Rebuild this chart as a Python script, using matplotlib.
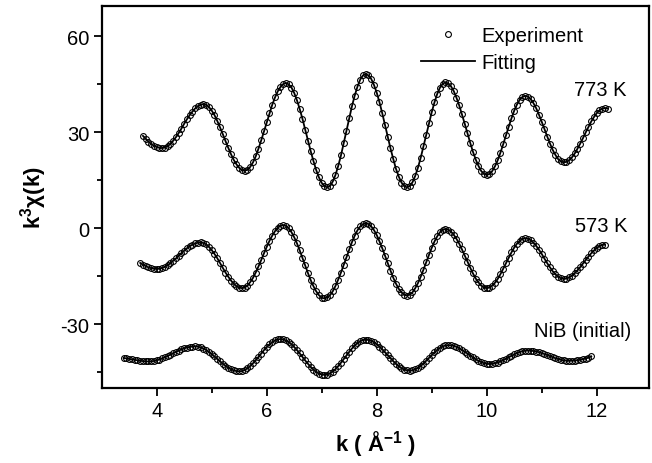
import numpy as np
import matplotlib.pyplot as plt
from matplotlib.lines import Line2D

plt.rcParams['font.family'] = ['Liberation Sans', 'DejaVu Sans']
plt.rcParams['mathtext.fontset'] = 'custom'
plt.rcParams['mathtext.rm'] = 'Liberation Sans'
plt.rcParams['mathtext.bf'] = 'Liberation Sans:bold'
plt.rcParams['axes.unicode_minus'] = False

# k^3 chi(k), 0.05 A^-1 grid starting at the first k of each curve
k_step = 0.05

k0_773 = 3.75
exp_773 = [
    28.8, 27.9, 27.0, 26.3, 25.7, 25.3, 25.05, 25.0,
    25.15, 25.6, 26.3, 27.3, 28.4, 29.7, 31.1, 32.6, 34.0, 35.3, 36.4, 37.4, 38.1, 38.55, 38.7,
    38.5, 37.8, 36.7, 35.3, 33.5, 31.5, 29.4, 27.2, 25.1, 23.1, 21.3, 19.9, 18.8, 18.1, 17.9,
    18.2, 19.1, 20.5, 22.4, 24.8, 27.4, 30.2, 33.0, 35.9, 38.5, 40.8, 42.7, 44.1, 45.0, 45.3,
    44.9, 43.9, 42.2, 39.9, 37.2, 34.1, 30.7, 27.3, 24.0, 20.9, 18.1, 15.8, 14.1, 13.1, 12.7,
    13.1, 14.5, 16.6, 19.4, 22.7, 26.5, 30.4, 34.3, 38.1, 41.4, 44.2, 46.4, 47.7, 48.1,
    47.7, 46.6, 44.7, 42.3, 39.3, 35.9, 32.2, 28.6, 24.9, 21.6, 18.5, 16.1, 14.2, 13.1, 12.7,
    13.1, 14.3, 16.3, 18.9, 22.0, 25.5, 29.1, 32.7, 36.2, 39.3, 41.9, 43.9, 45.1, 45.5,
    45.2, 44.3, 42.8, 40.7, 38.3, 35.5, 32.6, 29.6, 26.6, 23.8, 21.4, 19.4, 17.8, 16.9, 16.6,
    16.9, 17.8, 19.3, 21.2, 23.6, 26.2, 29.0, 31.7, 34.3, 36.7, 38.6, 40.1, 41.0, 41.3,
    41.0, 40.3, 39.0, 37.4, 35.4, 33.2, 30.9, 28.6, 26.4, 24.4, 22.8, 21.5, 20.8, 20.5,
    20.7, 21.2, 22.1, 23.3, 24.8, 26.4, 28.1, 29.9, 31.6, 33.3, 34.7, 35.9, 36.8, 37.3, 37.5, 37.3,
]

k0_573 = 3.70
exp_573 = [
    -10.9, -11.45, -11.9, -12.3, -12.55, -12.7, -12.8,
    -12.7, -12.5, -12.1, -11.6, -11.0, -10.2, -9.5, -8.7, -7.8, -7.1, -6.3, -5.7, -5.2, -4.8, -4.6, -4.5,
    -4.7, -5.1, -5.9, -6.9, -8.1, -9.4, -10.9, -12.4, -13.9, -15.2, -16.4, -17.4, -18.2, -18.6, -18.8,
    -18.6, -18.0, -16.9, -15.6, -13.9, -12.0, -10.0, -7.9, -5.9, -4.0, -2.4, -1.0, 0.1, 0.7, 0.9,
    0.65, -0.1, -1.3, -2.9, -4.8, -7.0, -9.4, -11.7, -14.1, -16.3, -18.2, -19.8, -21.0, -21.8, -22.0,
    -21.7, -21.0, -19.8, -18.1, -16.1, -13.9, -11.5, -9.0, -6.6, -4.4, -2.4, -0.7, 0.5, 1.2, 1.5,
    1.25, 0.5, -0.65, -2.2, -4.2, -6.3, -8.6, -11.0, -13.3, -15.5, -17.4, -19.0, -20.1, -20.9, -21.1,
    -20.8, -20.1, -18.8, -17.2, -15.2, -13.0, -10.7, -8.4, -6.2, -4.2, -2.6, -1.3, -0.6, -0.3,
    -0.5, -1.1, -2.1, -3.4, -4.9, -6.7, -8.6, -10.5, -12.4, -14.2, -15.8, -17.0, -18.0, -18.6, -18.8,
    -18.6, -18.0, -17.1, -15.9, -14.4, -12.7, -11.0, -9.3, -7.6, -6.1, -4.9, -4.0, -3.4, -3.2,
    -3.4, -3.8, -4.6, -5.6, -6.8, -8.1, -9.6, -11.0, -12.3, -13.5, -14.5, -15.3, -15.7, -15.9,
    -15.8, -15.4, -14.9, -14.1, -13.2, -12.2, -11.1, -10.0, -8.9, -7.9, -7.0, -6.2, -5.7, -5.3, -5.2,
]

k0_nib = 3.40
exp_nib = [
    -40.6, -40.75, -40.9, -41.05, -41.2, -41.35, -41.5, -41.6, -41.67, -41.7,
    -41.66, -41.54, -41.35, -41.09, -40.76, -40.4, -39.99, -39.57, -39.13, -38.71, -38.3, -37.94,
    -37.61, -37.35, -37.16, -37.04, -37.0,
    -37.07, -37.3, -37.66, -38.14, -38.73, -39.41, -40.14, -40.9, -41.66, -42.39, -43.07, -43.66,
    -44.14, -44.5, -44.72, -44.8,
    -44.69, -44.37, -43.84, -43.13, -42.27, -41.32, -40.28, -39.22, -38.18, -37.22, -36.37, -35.66,
    -35.13, -34.81, -34.7,
    -34.81, -35.13, -35.64, -36.34, -37.19, -38.16, -39.2, -40.3, -41.4, -42.44, -43.41, -44.26,
    -44.96, -45.47, -45.79, -45.9,
    -45.78, -45.43, -44.85, -44.08, -43.15, -42.1, -40.97, -39.83, -38.7, -37.65, -36.71, -35.94,
    -35.37, -35.02, -34.9,
    -34.99, -35.27, -35.71, -36.32, -37.05, -37.9, -38.8, -39.75, -40.7, -41.6, -42.45, -43.18,
    -43.79, -44.23, -44.5, -44.6,
    -44.5, -44.2, -43.73, -43.1, -42.34, -41.49, -40.6, -39.71, -38.86, -38.1, -37.47, -37.0, -36.7, -36.6,
    -36.66, -36.85, -37.16, -37.57, -38.08, -38.64, -39.24, -39.86, -40.46, -41.03, -41.53, -41.94,
    -42.25, -42.44, -42.5,
    -42.45, -42.29, -42.04, -41.71, -41.31, -40.87, -40.4, -39.93, -39.49, -39.09, -38.76, -38.51,
    -38.35, -38.3,
    -38.34, -38.44, -38.6, -38.83, -39.1, -39.4, -39.73, -40.07, -40.4, -40.7, -40.97, -41.2,
    -41.36, -41.46, -41.5,
    -41.48, -41.42, -41.32, -41.18, -41.0, -40.78, -40.5, -40.1,
]

# the fit overlays the data at this resolution
fit_773 = exp_773
fit_573 = exp_573
fit_nib = exp_nib

labels = ['773 K', '573 K', 'NiB (initial)']
label_pos = [(11.585, 43.4), (11.6, 0.7), (10.86, -31.9)]


def k_grid(k0, vals):
    return np.round(k0 + k_step * np.arange(len(vals)), 2)


fig = plt.figure(figsize=(6.52, 4.64), dpi=100)
ax = fig.add_axes([0.156, 0.1616, 0.8394, 0.8234])

curves = [(k0_773, exp_773, fit_773), (k0_573, exp_573, fit_573), (k0_nib, exp_nib, fit_nib)]
for k0, exp, fit in curves:
    k = k_grid(k0, exp)
    ax.plot(k, exp, 'o', ms=4.2, mfc='none', mec='black', mew=0.8, zorder=2)
    ax.plot(k_grid(k0, fit), fit, '-', color='black', lw=1.3, zorder=3)

for txt, (x, y) in zip(labels, label_pos):
    ax.text(x, y, txt, fontsize=14.5, ha='left', va='center')

handles = [Line2D([], [], ls='none', marker='o', ms=4.2, mfc='none', mec='black', mew=0.8),
           Line2D([], [], color='black', lw=1.3)]
ax.legend(handles, ['Experiment', 'Fitting'], loc='upper left', bbox_to_anchor=(0.583, 0.947),
          frameon=False, fontsize=14.5, handlelength=2.7, handletextpad=0.3,
          labelspacing=0.4, borderpad=0, borderaxespad=0)

ax.set_xlim(3, 12.95)
ax.set_ylim(-50, 69.4)
ax.set_xticks([4, 6, 8, 10, 12])
ax.set_xticks([5, 7, 9, 11], minor=True)
ax.set_yticks([-30, 0, 30, 60])
ax.set_yticks([-45, -15, 15, 45], minor=True)
ax.tick_params(which='major', direction='out', length=6, width=1.3, labelsize=14.5, pad=3)
ax.tick_params(which='minor', direction='out', length=3.5, width=1.3)
for s in ax.spines.values():
    s.set_linewidth(1.6)

ax.set_xlabel(r'k ( Å$^{\mathbf{-1}}$ )', fontsize=16, fontweight='bold', labelpad=6)
ax.set_ylabel(r'k$^{\mathbf{3}}$χ(k)', fontsize=16, fontweight='bold', labelpad=8)

plt.savefig('out.png', dpi=100)
